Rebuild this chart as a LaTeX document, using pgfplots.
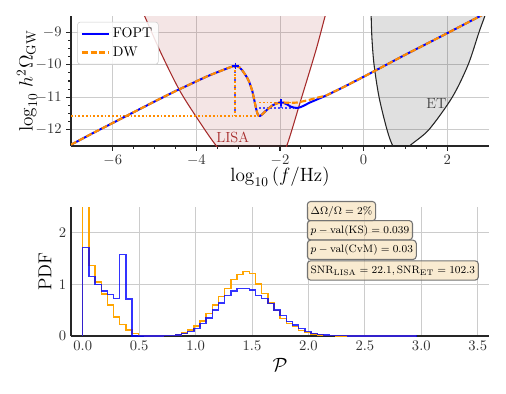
\documentclass[border=0pt]{standalone}
\usepackage{pgfplots}
\pgfplotsset{compat=1.18}
\usepackage{amsmath}

\definecolor{dwor}{RGB}{255,140,0}
\definecolor{lisabr}{RGB}{165,42,42}
\definecolor{wheat}{RGB}{245,222,179}
\definecolor{hblue}{RGB}{0,0,255}
\definecolor{gblue}{RGB}{70,70,255}
\definecolor{horange}{RGB}{255,165,0}

\pgfplotsset{
  panel/.style={
    scale only axis, width=313.5pt,
    axis lines=left, axis line style={-, line width=0.8pt, black!85},
    grid=major, major grid style={line width=0.7pt, black!20},
    tick style={black!85, line width=0.8pt},
    tick label style={font=\fontsize{10.5}{12}\selectfont, black!80},
    label style={font=\fontsize{14}{16}\selectfont},
    clip mode=individual,
  },
  guide/.style={line width=1.1pt, dash pattern=on 1.3pt off 1.5pt},
}

\begin{document}
\begin{tikzpicture}
\useasboundingbox (-53.25pt,-185.25pt) rectangle (326.25pt,109.5pt);

% ---------------- top panel: spectra ----------------
\begin{axis}[panel, at={(0,0)}, anchor=south west, height=97.5pt,
  xmin=-7, xmax=3, ymin=-12.5, ymax=-8.5,
  xtick={-6,-4,-2,0,2}, ytick={-12,-11,-10,-9},
  minor x tick num=3, minor y tick num=3,
  tick align=outside, major tick length=3.5pt, minor tick length=2pt,
  xlabel={$\log_{10}\,(f/\mathrm{Hz})$},
  ylabel={$\log_{10}\,h^2\Omega_{\mathrm{GW}}$},
  x label style={at={(axis description cs:0.5,-0.238)}, anchor=center},
  y label style={at={(axis description cs:-0.105,0.5)}, anchor=center},
  legend style={at={(axis description cs:0.015,0.955)}, anchor=north west,
    font=\fontsize{10.5}{12}\selectfont, draw=black!20, rounded corners=2pt,
    fill=white, fill opacity=0.85, text opacity=1, inner sep=2.5pt, row sep=1pt},
  legend cell align=left,
  legend image code/.code={\draw[#1] (0cm,0cm) -- (0.72cm,0cm);},
]
% LISA region
\addplot[draw=none, fill=lisabr, fill opacity=0.12, smooth, tension=0.5, forget plot] coordinates {
(-5.45,-7.9) (-5.24,-8.5) (-4.84,-9.66) (-4.41,-10.77) (-4.01,-11.59) (-3.52,-12.5)
(-3.0,-13.2) (-2.5,-13.45) (-2.1,-13.2) (-1.84,-12.5) (-1.5,-11.08) (-1.14,-9.55)
(-0.92,-8.5) (-0.78,-7.9)} -- cycle;
\addplot[lisabr, line width=0.8pt, smooth, tension=0.5, forget plot] coordinates {
(-5.45,-7.9) (-5.24,-8.5) (-4.84,-9.66) (-4.41,-10.77) (-4.01,-11.59) (-3.52,-12.5)
(-3.0,-13.2) (-2.5,-13.45) (-2.1,-13.2) (-1.84,-12.5) (-1.5,-11.08) (-1.14,-9.55)
(-0.92,-8.5) (-0.78,-7.9)};
% ET region
\addplot[draw=none, fill=black, fill opacity=0.12, smooth, tension=0.5, forget plot] coordinates {
(0.16,-7.9) (0.18,-8.5) (0.2,-9.2) (0.25,-10.0) (0.37,-11.0) (0.56,-12.0) (0.70,-12.5)
(0.9,-12.85) (1.1,-12.5) (1.56,-12.0) (2.12,-11.0) (2.5,-10.0) (2.76,-9.0) (2.9,-8.5)
(3.05,-7.9)} -- cycle;
\addplot[black!85, line width=0.8pt, smooth, tension=0.5, forget plot] coordinates {
(0.16,-7.9) (0.18,-8.5) (0.2,-9.2) (0.25,-10.0) (0.37,-11.0) (0.56,-12.0) (0.70,-12.5)
(0.9,-12.85) (1.1,-12.5) (1.56,-12.0) (2.12,-11.0) (2.5,-10.0) (2.76,-9.0) (2.9,-8.5)
(3.05,-7.9)};
% peak / dip guides
\addplot[dwor, guide, forget plot] coordinates {(-7,-11.57) (-2.5,-11.57)};
\addplot[dwor, line width=1.3pt, dash pattern=on 1.5pt off 1.3pt, forget plot]
  coordinates {(-3.07,-10.04) (-3.07,-11.57)};
\addplot[gblue, line width=1.3pt, dash pattern=on 1.3pt off 4.3pt, dash phase=1.4pt, forget plot]
  coordinates {(-3.07,-10.04) (-3.07,-11.57)};
\addplot[gblue, guide, forget plot] coordinates {(-2.5,-11.33) (-1.6,-11.33)};
\addplot[dwor, guide, forget plot] coordinates {(-2.5,-11.16) (-1.6,-11.16)};
\addplot[gblue, line width=1.3pt, dash pattern=on 1.3pt off 1.3pt, forget plot]
  coordinates {(-1.98,-11.16) (-1.98,-11.33)};
% spectra
\addplot[hblue, line width=1.5pt] coordinates {
(-7,-12.46) (-6.5,-12.12) (-6,-11.79) (-5.5,-11.46) (-5,-11.13) (-4.5,-10.81) (-4,-10.51)
(-3.75,-10.36) (-3.5,-10.23) (-3.3,-10.13) (-3.2,-10.08) (-3.1,-10.04) (-3.03,-10.04)
(-2.97,-10.08) (-2.91,-10.16) (-2.85,-10.27) (-2.79,-10.39) (-2.74,-10.52) (-2.7,-10.66)
(-2.66,-10.82) (-2.63,-11.0) (-2.6,-11.18) (-2.57,-11.36) (-2.54,-11.5) (-2.51,-11.57)
(-2.47,-11.57) (-2.42,-11.52) (-2.35,-11.43) (-2.27,-11.34) (-2.19,-11.26) (-2.1,-11.2)
(-2.0,-11.16) (-1.92,-11.17) (-1.83,-11.22) (-1.74,-11.29) (-1.66,-11.32) (-1.58,-11.33)
(-1.5,-11.3) (-1.4,-11.24) (-1.3,-11.17) (-1.1,-11.06) (-0.9,-10.95) (-0.5,-10.7)
(0,-10.37) (1,-9.69) (2,-9.03) (3,-8.36)};
\addlegendentry{FOPT}
\addplot[dwor, line width=1.6pt, dash pattern=on 4.5pt off 2pt] coordinates {
(-7,-12.46) (-6.5,-12.12) (-6,-11.79) (-5.5,-11.46) (-5,-11.13) (-4.5,-10.81) (-4,-10.51)
(-3.75,-10.36) (-3.5,-10.23) (-3.3,-10.13) (-3.2,-10.08) (-3.1,-10.04) (-3.03,-10.04)
(-2.97,-10.08) (-2.91,-10.16) (-2.85,-10.27) (-2.79,-10.39) (-2.74,-10.52) (-2.7,-10.66)
(-2.66,-10.82) (-2.63,-11.0) (-2.6,-11.18) (-2.57,-11.36) (-2.54,-11.5) (-2.51,-11.57)
(-2.47,-11.57) (-2.42,-11.52) (-2.35,-11.43) (-2.27,-11.34) (-2.19,-11.26) (-2.1,-11.2)
(-2.0,-11.16) (-1.92,-11.16) (-1.83,-11.17) (-1.74,-11.17) (-1.66,-11.17) (-1.58,-11.16)
(-1.5,-11.14) (-1.4,-11.11) (-1.3,-11.08) (-1.1,-11.01) (-0.9,-10.95) (-0.5,-10.7)
(0,-10.37) (1,-9.69) (2,-9.03) (3,-8.36)};
\addlegendentry{DW}
\addplot[hblue, only marks, mark=+, mark size=2.5pt, line width=1pt, forget plot]
  coordinates {(-3.07,-10.04) (-1.98,-11.16)};
\node[lisabr, font=\fontsize{11}{13}\selectfont] at (axis cs:-3.13,-12.23) {LISA};
\node[black!75, font=\fontsize{11}{13}\selectfont] at (axis cs:1.74,-11.18) {ET};
\end{axis}

% ---------------- bottom panel: histograms ----------------
\begin{axis}[panel, at={(0,-142.5pt)}, anchor=south west, height=96.75pt,
  xmin=-0.104, xmax=3.6, ymin=0, ymax=2.5,
  xtick={0,0.5,1,1.5,2,2.5,3,3.5}, ytick={0,1,2},
  major tick length=0pt,
  xticklabel style={/pgf/number format/.cd, fixed, fixed zerofill, precision=1},
  xlabel={$\mathcal{P}$}, ylabel={PDF},
  x label style={at={(axis description cs:0.5,-0.225)}, anchor=center},
  y label style={at={(axis description cs:-0.062,0.5)}, anchor=center},
]
\addplot[horange, line width=1.1pt, const plot] coordinates {
(0,0) (0,3.5) (0.0547,1.37) (0.1094,1.05) (0.1641,0.81) (0.2188,0.60) (0.2734,0.37)
(0.3281,0.22) (0.3828,0.12) (0.4375,0.05) (0.4922,0.01) (0.5469,0) (0.6016,0.001)
(0.6563,0.003) (0.7109,0.006) (0.7656,0.012) (0.8203,0.022) (0.875,0.06) (0.9297,0.12)
(0.9844,0.19) (1.0391,0.29) (1.0938,0.44) (1.1484,0.60) (1.2031,0.77) (1.2578,0.92)
(1.3125,1.09) (1.3672,1.19) (1.4219,1.25) (1.4766,1.21) (1.5313,1.01) (1.5859,0.82)
(1.6406,0.64) (1.6953,0.49) (1.75,0.34) (1.8047,0.24) (1.8594,0.18) (1.9141,0.11)
(1.9688,0.07) (2.0234,0.04) (2.0781,0.02) (2.1328,0.01) (2.1875,0.006) (2.2422,0.004)
(2.2969,0.002) (2.3516,0.001) (2.4063,0) (2.9531,0)};
\addplot[hblue, opacity=0.8, line width=1.1pt, const plot] coordinates {
(0,0) (0,1.72) (0.0547,1.15) (0.1094,1.0) (0.1641,0.87) (0.2188,0.80) (0.2734,0.73)
(0.3281,1.58) (0.3828,0.72) (0.4375,0) (0.4922,0) (0.5469,0) (0.6016,0.002)
(0.6563,0.003) (0.7109,0.006) (0.7656,0.012) (0.8203,0.02) (0.875,0.045) (0.9297,0.09)
(0.9844,0.15) (1.0391,0.24) (1.0938,0.35) (1.1484,0.50) (1.2031,0.64) (1.2578,0.78)
(1.3125,0.87) (1.3672,0.92) (1.4219,0.92) (1.4766,0.89) (1.5313,0.79) (1.5859,0.73)
(1.6406,0.63) (1.6953,0.50) (1.75,0.40) (1.8047,0.28) (1.8594,0.21) (1.9141,0.15)
(1.9688,0.085) (2.0234,0.05) (2.0781,0.03) (2.1328,0.018) (2.1875,0.012) (2.2422,0.008)
(2.2969,0.005) (2.3516,0.004) (2.4063,0.003) (2.4609,0.002) (2.5156,0.002) (2.5703,0.001)
(2.625,0.001) (2.6797,0.0005) (2.9531,0)};
\begin{scope}[every node/.style={anchor=west, draw=black!55, line width=0.8pt,
    rounded corners=2.5pt, fill=wheat, fill opacity=0.6, text opacity=1,
    font=\fontsize{8.5}{10}\selectfont, inner sep=2.5pt, text height=7pt, text depth=2.5pt}]
\node at (axis cs:1.985,2.42) {$\Delta\Omega/\Omega=2\%$};
\node at (axis cs:1.985,2.05) {$p-\mathrm{val}(\mathrm{KS})=0.039$};
\node at (axis cs:1.985,1.67) {$p-\mathrm{val}(\mathrm{CvM})=0.03$};
\node at (axis cs:1.985,1.27) {$\mathrm{SNR}_{\mathrm{LISA}}=22.1,\mathrm{SNR}_{\mathrm{ET}}=102.3$};
\end{scope}
\end{axis}
\end{tikzpicture}
\end{document}
